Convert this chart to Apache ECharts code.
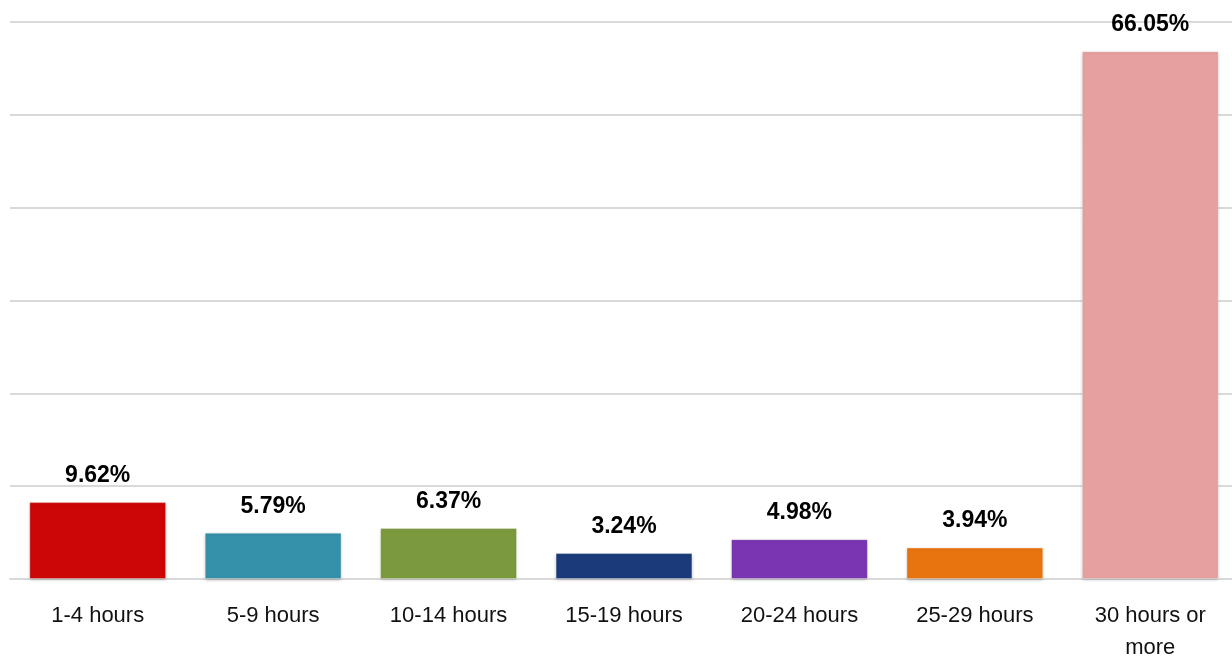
<!DOCTYPE html>
<html>
<head>
<meta charset="utf-8">
<script src="https://cdn.jsdelivr.net/npm/echarts@6/dist/echarts.min.js"></script>
<style>
  html, body { margin: 0; padding: 0; background: #fff; }
  #chart { width: 1232px; height: 660px; }
</style>
</head>
<body>
<div id="chart"></div>
<script>
// hours per week categories and their share (%)
const categories = ['1-4 hours', '5-9 hours', '10-14 hours', '15-19 hours', '20-24 hours', '25-29 hours', '30 hours or more'];
const shares = [9.62, 5.79, 6.37, 3.24, 4.98, 3.94, 66.05];

// one colour per bar
const barColors = ['#cc0606', '#3590a9', '#7a9a3d', '#1b3a7a', '#7a35b2', '#e8740f', '#e6a0a0'];

var chart = echarts.init(document.getElementById('chart'));

var option = {
    animation: false,
    grid: {
        left: 10,
        right: -6,
        top: 22,
        bottom: 81,
        outerBoundsMode: 'none'
    },
    xAxis: {
        type: 'category',
        data: categories,
        axisLine: { show: true, lineStyle: { color: '#d9d9d9', width: 2 } },
        axisTick: { show: false },
        axisLabel: {
            margin: 21,
            color: '#111',
            fontFamily: 'Liberation Sans',
            fontSize: 22,
            lineHeight: 32,
            interval: 0,
            formatter: function (v) { return v.replace(' or more', ' or\nmore'); }
        }
    },
    yAxis: {
        type: 'value',
        min: 0,
        max: 69.7,
        interval: 69.7 / 6,
        axisLabel: { show: false },
        axisLine: { show: false },
        axisTick: { show: false },
        splitLine: { lineStyle: { color: '#d9d9d9', width: 2 } }
    },
    series: [
        {
            type: 'bar',
            data: shares,
            barCategoryGap: '22%',
            itemStyle: {
                color: function (p) { return barColors[p.dataIndex]; },
                borderColor: 'rgba(255,255,255,0.35)',
                borderWidth: 1,
                shadowColor: 'rgba(0,0,0,0.25)',
                shadowBlur: 3,
                shadowOffsetY: 1
            },
            label: {
                show: true,
                position: 'top',
                distance: 15,
                color: '#000',
                fontFamily: 'Liberation Sans',
                fontWeight: 'bold',
                fontSize: 23,
                formatter: function (p) { return p.value.toFixed(2) + '%'; }
            }
        }
    ]
};

option && chart.setOption(option);
</script>
</body>
</html>
